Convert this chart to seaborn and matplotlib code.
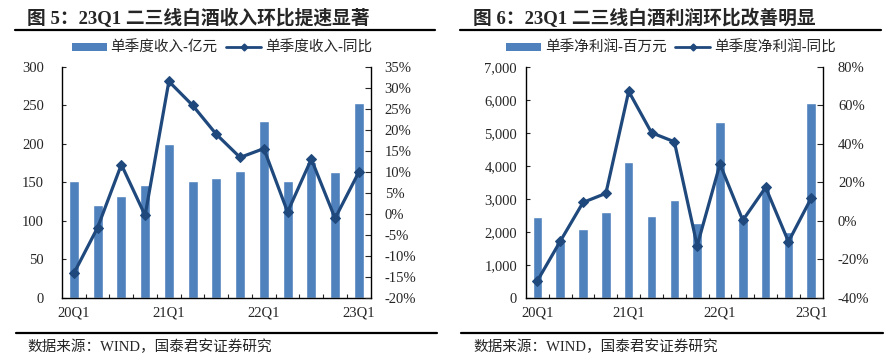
import numpy as np
import pandas as pd
import matplotlib
matplotlib.use("Agg")
import matplotlib.pyplot as plt
import seaborn as sns
from matplotlib.ticker import FuncFormatter, FixedLocator, MultipleLocator
from matplotlib.lines import Line2D
from matplotlib.patches import Patch

# ---------------- data ----------------
quarters = ['20Q1', '20Q2', '20Q3', '20Q4', '21Q1', '21Q2', '21Q3', '21Q4',
            '22Q1', '22Q2', '22Q3', '22Q4', '23Q1']
tick_labels = ['20Q1', '21Q1', '22Q1', '23Q1']

revenue = [152, 120, 132, 146, 200, 151, 156, 164, 230, 152, 176, 163, 253]          # 亿元
revenue_yoy = [-14.2, -3.3, 11.7, -0.4, 31.5, 25.8, 18.9, 13.4, 15.5, 0.4, 13.0, -1.1, 9.9]  # %

profit = [2440, 1680, 2080, 2600, 4110, 2490, 2960, 2250, 5310, 2450, 3430, 2000, 5910]  # 百万元
profit_yoy = [-31.2, -10.7, 9.5, 14.2, 67.2, 45.7, 41.0, -13.0, 29.4, 0.2, 17.3, -10.9, 11.8]  # %

title_left = '图 5：23Q1 二三线白酒收入环比提速显著'
title_right = '图 6：23Q1 二三线白酒利润环比改善明显'
bar_name_left = '单季度收入-亿元'
line_name_left = '单季度收入-同比'
bar_name_right = '单季净利润-百万元'
line_name_right = '单季度净利润-同比'
source = '数据来源：WIND，国泰君安证券研究'

BAR = '#4F81BD'
LINE = '#1F497D'

sns.set_theme(style='white')
plt.rcParams['font.family'] = ['Liberation Serif', 'Noto Sans CJK SC']
plt.rcParams['axes.unicode_minus'] = False

W, H = 893, 364
fig = plt.figure(figsize=(W / 100, H / 100), dpi=100)


def px_axes(x0, x1, ytop, ybot):
    return [x0 / W, 1 - ybot / H, (x1 - x0) / W, (ybot - ytop) / H]


def panel(rect, bars, yoy, ylim, ystep, y2lim, y2step, lfmt, lpad, rpad,
          bar_name, line_name, legend_cx):
    df = pd.DataFrame({'q': quarters, 'v': bars, 'yoy': yoy, 'idx': np.arange(len(quarters))})
    ax = fig.add_axes(rect)
    sns.barplot(data=df, x='q', y='v', ax=ax, color=BAR, saturation=1, width=0.42)
    ax2 = ax.twinx()
    sns.lineplot(data=df, x='idx', y='yoy', ax=ax2, color=LINE, marker='D',
                 markersize=5.5, markeredgecolor=LINE, linewidth=2.3)
    ax.set_xlim(-0.5, len(quarters) - 0.5)
    ax.set_ylim(*ylim)
    ax.yaxis.set_major_locator(MultipleLocator(ystep))
    ax.yaxis.set_major_formatter(FuncFormatter(lfmt))
    ax2.set_ylim(*y2lim)
    ax2.yaxis.set_major_locator(MultipleLocator(y2step))
    ax2.yaxis.set_major_formatter(FuncFormatter(lambda v, p: f'{v:.0f}%'))
    ax.set_xticks([quarters.index(t) for t in tick_labels])
    ax.set_xticklabels(tick_labels)
    ax.xaxis.set_minor_locator(FixedLocator(np.arange(0.5, len(quarters) - 0.5, 1)))
    ax.set_xlabel('')
    ax.set_ylabel('')
    ax2.set_xlabel('')
    ax2.set_ylabel('')
    ax.tick_params(axis='x', which='major', length=0, pad=6, labelsize=10.5)
    ax.tick_params(axis='x', which='minor', direction='in', length=3, width=0.8, bottom=True)
    ax.tick_params(axis='y', direction='in', length=3, width=0.8, left=True, pad=lpad, labelsize=10.5)
    ax2.tick_params(axis='y', direction='in', length=4, width=0.8, right=True, pad=rpad, labelsize=10.5)
    for a in (ax, ax2):
        a.spines['top'].set_visible(False)
        for s in ('left', 'bottom', 'right'):
            a.spines[s].set_color('black')
            a.spines[s].set_linewidth(1.0)
    ax.spines['right'].set_visible(False)
    ax2.spines['left'].set_visible(False)
    ax2.spines['bottom'].set_visible(False)
    handles = [Patch(facecolor=BAR, edgecolor='none'),
               Line2D([], [], color=LINE, lw=2.0, marker='D', markersize=3.5)]
    fig.legend(handles, [bar_name, line_name], loc='center',
               bbox_to_anchor=(legend_cx / W, 1 - 48 / H), ncol=2, frameon=False,
               fontsize=10.5, handlelength=2.4, handleheight=0.5, handletextpad=0.25,
               columnspacing=0.6, borderaxespad=0, borderpad=0)
    return ax, ax2


panel(px_axes(62, 370.7, 66.7, 297.7), revenue, revenue_yoy, (0, 300), 50,
      (-20, 35), 5, lambda v, p: f'{v:.0f}', 13, 10,
      bar_name_left, line_name_left, 222)
panel(px_axes(526, 822.7, 66.7, 297.7), profit, profit_yoy, (0, 7000), 1000,
      (-40, 80), 20, lambda v, p: f'{v:,.0f}', 6.5, 11,
      bar_name_right, line_name_right, 671)

# titles, rules, source
for x_text, x0, x1, title in ((27, 15, 435, title_left), (473, 460, 881, title_right)):
    fig.text(x_text / W, 1 - 18 / H, title, fontsize=13.5, weight='bold', va='center', ha='left')
    fig.add_artist(Line2D([x0 / W, x1 / W], [1 - 30 / H] * 2, color='black', lw=1.6))
    fig.add_artist(Line2D([x0 / W + 1 / W, x1 / W + 2 / W], [1 - 333 / H] * 2, color='black', lw=1.6))
    fig.text((x_text) / W, 1 - 347 / H, source, fontsize=10.5, va='center', ha='left')

fig.savefig('out.png', dpi=100)
